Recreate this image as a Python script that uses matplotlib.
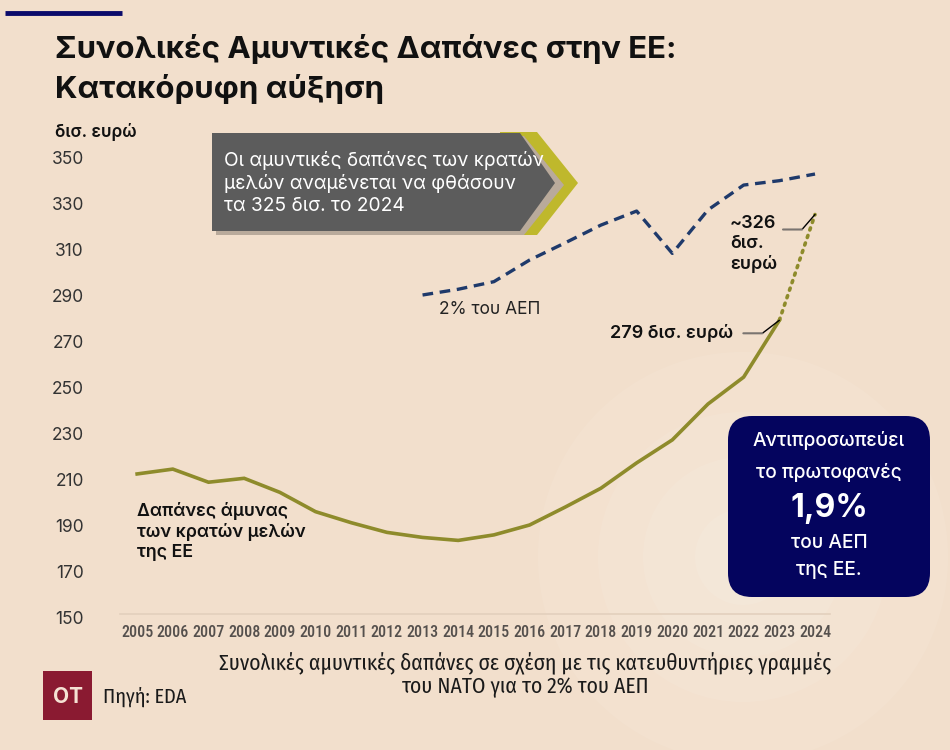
import matplotlib
matplotlib.use("Agg")
import matplotlib.pyplot as plt
from matplotlib import font_manager
from matplotlib.patches import Polygon, FancyBboxPatch, Circle, Rectangle
from matplotlib.transforms import offset_copy

# ------------------------------------------------------------------
# data (δισ. ευρώ)
years = list(range(2005, 2025))
eu_years = list(range(2005, 2024))
eu_spending = [212.2, 214.3, 208.6, 210.3, 204.2, 195.8, 191.0, 186.8, 184.6, 183.3,
               185.7, 190.0, 197.8, 206.0, 217.0, 227.0, 242.6, 254.3, 279.0]
proj_years = [2023, 2024]
proj_values = [279.0, 325.0]
nato_years = list(range(2013, 2025))
nato_2pct = [290.0, 292.5, 295.8, 305.2, 312.7, 320.4, 326.5, 308.1, 327.0, 337.8, 339.7, 342.6]
y_ticks = list(range(150, 351, 20))

BG = "#f2dfcc"
OLIVE = "#8e8b2b"
NAVY_LINE = "#1f3a6b"

names = {f.name for f in font_manager.fontManager.ttflist}
MAIN = "Inter" if "Inter" in names else "DejaVu Sans"
NARROW = next((n for n in ("Fira Sans Condensed", "Roboto Condensed", "Liberation Sans Narrow")
               if n in names), "DejaVu Sans")
TICKF = next((n for n in ("Roboto Condensed", "IBM Plex Sans Condensed", NARROW)
              if n in names), NARROW)
plt.rcParams["font.family"] = [MAIN, "DejaVu Sans"]
NARROW_FAM = [NARROW, "DejaVu Sans"]

fig = plt.figure(figsize=(9.5, 7.5), dpi=100, facecolor=BG)

# decorative layer in pixel coordinates
bg = fig.add_axes([0, 0, 1, 1], zorder=0)
bg.set_xlim(0, 950); bg.set_ylim(750, 0); bg.axis("off")
for r in (205, 145, 100, 48):
    bg.add_patch(Circle((743, 557), r, facecolor="white", alpha=0.08, lw=0))

# ---------- data axes ----------
ax = fig.add_axes([120/950, 1 - 617/750, 710/950, (617 - 145.5)/750], zorder=2)
ax.set_facecolor("none")
ax.set_xlim(2004.52, 2024.42)
ax.set_ylim(150, 355)
for s in ("top", "right", "left"):
    ax.spines[s].set_visible(False)
ax.spines["bottom"].set_color("#e3d0bd")
ax.spines["bottom"].set_linewidth(1.2)
ax.spines["bottom"].set_position(("data", 151.3))
ax.set_yticks(y_ticks)
ax.set_yticklabels([str(v) for v in y_ticks], fontsize=12.5, color="#333333")
ax.set_xticks(years)
ax.set_xticklabels([str(y) for y in years], fontsize=11.5, color="#55504d",
                   family=[TICKF, "DejaVu Sans"], fontweight="medium")
for lbl in ax.get_xticklabels():
    lbl.set_verticalalignment("baseline")
ax.tick_params(axis="y", length=0, pad=26)
ax.tick_params(axis="x", length=0, pad=16.5)

ax.plot(eu_years, eu_spending, color=OLIVE, lw=2.6, solid_joinstyle="miter", zorder=3)
ax.plot(proj_years, proj_values, color=OLIVE, lw=2.6, ls=(0, (0.6, 1.6)),
        dash_capstyle="round", zorder=3)
ax.plot(nato_years, nato_2pct, color=NAVY_LINE, lw=2.4, ls=(0, (3.2, 2.0)), zorder=3)

# leader lines
def leader(x, y, knee, start, label_off, text, ha, va):
    tk = offset_copy(ax.transData, fig=fig, x=knee[0], y=knee[1], units="dots")
    ts = offset_copy(ax.transData, fig=fig, x=start[0], y=start[1], units="dots")
    ax.annotate("", xy=(x, y), xytext=(x, y), xycoords="data", textcoords=tk,
                arrowprops=dict(arrowstyle="-", color="black", lw=1, shrinkA=0, shrinkB=0))
    ax.annotate("", xy=(x, y), xytext=(x, y), xycoords=tk, textcoords=ts,
                arrowprops=dict(arrowstyle="-", color="#7a7470", lw=1.5, shrinkA=0, shrinkB=0))
    ax.annotate(text, xy=(x, y), xytext=(label_off[0]*0.72, label_off[1]*0.72),
                textcoords="offset points", ha=ha, va=va, fontsize=13,
                fontweight="semibold", color="#111111", linespacing=1.25)

leader(2023, 279, (-17, -13), (-36, -13), (-46, -13), "279 δισ. ευρώ", "right", "center")
leader(2024, 325, (-13, -15), (-32, -15), (-85, 0), "~326\nδισ.\nευρώ", "left", "top")

ax.text(2013.45, 287.5, "2% του ΑΕΠ", fontsize=12.5, color="#222222", va="top")
ax.text(2005, 200, "Δαπάνες άμυνας\nτων κρατών μελών\nτης ΕΕ", fontsize=12.8,
        fontweight="semibold", color="#111111", va="top", linespacing=1.22)

# ---------- decorations (pixel coords) ----------
bg.plot([5, 122], [13, 13], color="#0b0b6b", lw=3.5, solid_capstyle="butt")
bg.text(55, 58, "Συνολικές Αμυντικές Δαπάνες στην ΕΕ:", fontsize=22.5, fontweight="bold",
        color="#111111", va="baseline")
bg.text(55, 98, "Κατακόρυφη αύξηση", fontsize=22.5, fontweight="bold",
        color="#111111", va="baseline")
bg.text(55, 137, "δισ. ευρώ", fontsize=12.5, fontweight="semibold", color="#111111", va="baseline")

# arrow box
bg.add_patch(Polygon([(500, 132), (537, 132), (578, 183), (537, 235), (500, 235)],
                     closed=True, facecolor="#bfb82c", lw=0))
bg.add_patch(Polygon([(216, 136), (524, 136), (564, 185), (524, 235), (216, 235)],
                     closed=True, facecolor="#b9aa9b", lw=0))
bg.add_patch(Polygon([(212, 133), (520, 133), (555, 183), (520, 231), (212, 231)],
                     closed=True, facecolor="#5c5c5c", lw=0))
bg.text(224, 151, "Οι αμυντικές δαπάνες των κρατών\nμελών αναμένεται να φθάσουν\nτα 325 δισ. το 2024",
        fontsize=13.8, color="white", va="top", linespacing=1.28)

# navy box
bg.add_patch(FancyBboxPatch((748, 436), 162, 141, boxstyle="round,pad=20,rounding_size=24",
                            facecolor="#04045e", lw=0))
for txt, yy, fs, fw in [("Αντιπροσωπεύει", 441, 13.8, "medium"),
                        ("το πρωτοφανές", 473, 13.8, "medium"),
                        ("1,9%", 509, 23, "bold"),
                        ("του ΑΕΠ", 543, 13.8, "medium"),
                        ("της ΕΕ.", 570, 13.8, "medium")]:
    bg.text(829, yy, txt, fontsize=fs, fontweight=fw, color="white", ha="center", va="center")

# subtitle and source
bg.text(525, 675, "Συνολικές αμυντικές δαπάνες σε σχέση με τις κατευθυντήριες γραμμές\nτου ΝΑΤΟ για το 2% του ΑΕΠ",
        fontsize=15.5, family=NARROW_FAM, color="#1a1a1a", ha="center", va="center", linespacing=1.05)
bg.add_patch(Rectangle((43, 671), 49, 49, facecolor="#8a1a31", lw=0))
bg.text(67.5, 697, "OT", fontsize=15, fontweight="bold", color="#f5e1d3", ha="center", va="center")
bg.text(103, 697, "Πηγή: EDA", fontsize=14.5, family=NARROW_FAM, color="#1a1a1a", va="center")

fig.savefig("out.png", dpi=100, facecolor=BG)
